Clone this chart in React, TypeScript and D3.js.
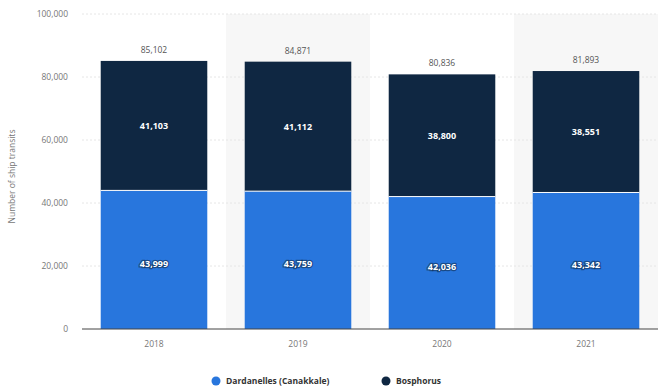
import React from "react";
import * as d3 from "d3";

const years = ["2018", "2019", "2020", "2021"];
const dardanelles = [43999, 43759, 42036, 43342];
const bosphorus = [41103, 41112, 38800, 38551];
const yTicks = [0, 20000, 40000, 60000, 80000, 100000];
const seriesNames = ["Dardanelles (Canakkale)", "Bosphorus"];
const colors = ["#2876dd", "#0f2742"];

const W = 669, H = 390;
const m = { left: 82, right: 11, top: 14, bottom: 61 };

export default function App() {
  const x = d3.scaleBand<string>().domain(years).range([m.left, W - m.right]).paddingInner(0.26).paddingOuter(0.13);
  const y = d3.scaleLinear().domain([0, 100000]).range([H - m.bottom, m.top]);
  const fmt = d3.format(",");
  const step = x.step();
  const rows = years.map((yr, i) => ({ yr, a: dardanelles[i], b: bosphorus[i], t: dardanelles[i] + bosphorus[i] }));
  const font = "'Open Sans', 'Noto Sans', sans-serif";
  return (
    <svg width={W} height={H} style={{ position: "absolute", left: 0, top: 0, background: "#fff" }} fontFamily={font}>
      {years.map((yr, i) => i % 2 === 1 ? (
        <rect key={"bg" + yr} x={(x(yr) as number) - (step - x.bandwidth()) / 2} y={m.top} width={step} height={y(0) - m.top} fill="#f7f7f7" />
      ) : null)}
      {yTicks.map((t) => (
        <g key={t}>
          {t > 0 && <line x1={m.left} x2={W - m.right} y1={y(t)} y2={y(t)} stroke="#e6e6e6" strokeWidth={1} strokeDasharray="2,2" />}
          <text x={68} y={y(t)} dy="0.35em" textAnchor="end" fontSize={8.5} fill="#777">{fmt(t)}</text>
        </g>
      ))}
      <text transform={`translate(15,${(m.top + y(0)) / 2 + 5}) rotate(-90)`} textAnchor="middle" fontSize={8.5} fill="#777">Number of ship transits</text>
      {rows.map((r) => {
        const bx = x(r.yr) as number;
        const bw = x.bandwidth();
        const cx = bx + bw / 2;
        return (
          <g key={r.yr}>
            <rect x={bx} y={y(r.a)} width={bw} height={y(0) - y(r.a)} fill={colors[0]} />
            <rect x={bx} y={y(r.t)} width={bw} height={y(r.a) - y(r.t)} fill={colors[1]} />
            <line x1={bx} x2={bx + bw} y1={y(r.a)} y2={y(r.a)} stroke="#fff" strokeWidth={1} />
            <text x={cx} y={(y(0) + y(r.a)) / 2 + 4} dy="0.35em" textAnchor="middle" fontSize={9} fontWeight="bold" fill="#fff" stroke="#0f2742" strokeWidth={2.5} strokeOpacity={0.55} style={{ paintOrder: "stroke" }}>{fmt(r.a)}</text>
            <text x={cx} y={(y(r.a) + y(r.t)) / 2} dy="0.35em" textAnchor="middle" fontSize={9} fontWeight="bold" fill="#fff">{fmt(r.b)}</text>
            <text x={cx} y={y(r.t) - 8} textAnchor="middle" fontSize={8.5} fill="#555">{fmt(r.t)}</text>
            <text x={cx} y={y(0) + 18} textAnchor="middle" fontSize={8.5} fill="#777">{r.yr}</text>
          </g>
        );
      })}
      <line x1={m.left} x2={W - m.right} y1={y(0)} y2={y(0)} stroke="#444" strokeWidth={1} />
      <g>
        <circle cx={216} cy={381} r={4.5} fill={colors[0]} />
        <text x={226} y={381} dy="0.35em" fontSize={8.5} fontWeight="bold" fill="#333">{seriesNames[0]}</text>
        <circle cx={386} cy={381} r={4.5} fill={colors[1]} />
        <text x={396} y={381} dy="0.35em" fontSize={8.5} fontWeight="bold" fill="#333">{seriesNames[1]}</text>
      </g>
    </svg>
  );
}
